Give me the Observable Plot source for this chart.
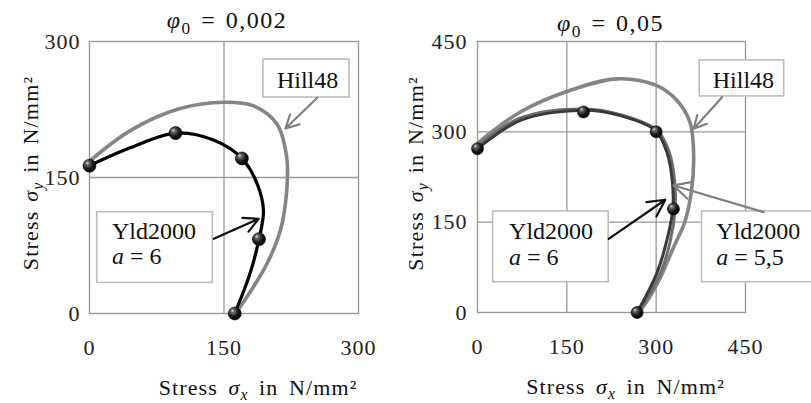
<!DOCTYPE html>
<html><head><meta charset="utf-8">
<script src="https://cdn.jsdelivr.net/npm/d3@7"></script>
<script src="https://cdn.jsdelivr.net/npm/@observablehq/plot@0.6"></script>
<style>
html,body{margin:0;padding:0;background:#fff;}
#wrap{display:flex;width:811px;height:403px;overflow:hidden;}
#wrap svg{display:block;flex:none;}
#wrap svg text, #wrap svg tspan{font-family:"Liberation Serif","Times New Roman",serif !important;}
</style></head><body><div id="wrap"></div>
<script>
// ---------- texts ----------
const titleLeft = "*φ*_{0} = 0,002";
const titleRight = "*φ*_{0} = 0,05";
const xLabel = "Stress *σ*_{x} in N/mm²";
const yLabel = "Stress *σ*_{y} in N/mm²";
const leftTicks = [0, 150, 300];
const rightTicks = [0, 150, 300, 450];
const leftGrid = [150];
const rightGrid = [150, 300];

// ---------- left panel, φ0 = 0,002 ----------
const leftHill48X = [0, 46, 101, 150, 183, 209, 220, 220, 213, 198, 180, 163];
const leftHill48Y = [168, 202, 226, 233, 229, 209, 172, 136, 92, 55, 25, 0];
const leftYldX = [0, 46, 96, 139, 170, 187, 194, 189, 179, 162];
const leftYldY = [163, 183, 199, 191, 171, 143, 114, 82, 44, 0];
const leftDotX = [0, 96, 170, 189, 162];
const leftDotY = [163, 199, 171, 82, 0];
const leftLabels = ["Hill48", "Yld2000", "*a* = 6"];
const leftLabelX = [209, 25, 25];
const leftLabelY = [257, 91, 63];
const leftBoxX1 = [194, 8.6], leftBoxX2 = [290, 137.5];
const leftBoxY1 = [280, 111.7], leftBoxY2 = [238.2, 33.8];
const leftArrowX1 = [254, 138.6], leftArrowY1 = [238, 82.4];
const leftArrowX2 = [218.5, 188.7], leftArrowY2 = [204, 104.4];
const leftArrowColor = ["#808080", "#111"];

// ---------- right panel, φ0 = 0,05 ----------
const rightHill48X = [0, 72, 156, 235, 300, 335, 357, 363, 359, 348, 330, 307, 282, 270];
const rightHill48Y = [281, 333, 369, 388, 377, 352, 315, 260, 200, 150, 110, 58, 15, 0];
const rightYld6X = [0, 72, 178, 240, 299, 318, 327, 328, 318, 301, 268];
const rightYld6Y = [272, 319, 336, 327, 302, 266, 219, 172, 120, 65, 0];
const rightYld55X = [0, 72, 178, 242, 302, 322, 331, 332, 324, 307, 270];
const rightYld55Y = [277, 323, 338, 328, 302, 266, 219, 175, 120, 65, 0];
const rightDotX = [0, 178, 300, 329, 268];
const rightDotY = [272, 333, 300, 172, 0];
const rightLabels = ["Hill48", "Yld2000", "*a* = 6", "Yld2000", "*a* = 5,5"];
const rightLabelX = [395, 53, 53, 401, 401];
const rightLabelY = [385, 134.5, 92, 134.5, 92];
const rightBoxX1 = [373, 26.3, 377], rightBoxX2 = [515, 220.3, 570];
const rightBoxY1 = [418.6, 167.8, 167.8], rightBoxY2 = [358.8, 50.3, 50.3];
const rightArrowX1 = [410.6, 220.3, 480.4], rightArrowY1 = [357.6, 122.4, 166.6];
const rightArrowX2 = [363, 315.4, 329.4], rightArrowY2 = [305, 187.2, 211];
const rightArrowColor = ["#808080", "#111", "#808080"];

const FONT = "'Liberation Serif', 'Times New Roman', serif";
const pts = (xs, ys) => xs.map((x, i) => ({x, y: ys[i]}));

function enrich(svg, titleText) {
  const s = d3.select(svg);
  s.selectAll("text").attr("font-family", FONT);
  s.selectAll('g[aria-label="x-axis tick label"] text, g[aria-label="y-axis tick label"] text').attr("letter-spacing", 1);
  s.selectAll("text").each(function () {
    const t = this.textContent;
    const sel = d3.select(this);
    if (t === xLabel) sel.attr("letter-spacing", 1.1).attr("word-spacing", 4);
    if (t === yLabel) sel.attr("letter-spacing", 1.2).attr("word-spacing", 2);
    if (t === titleText) sel.attr("letter-spacing", 1.5).attr("word-spacing", 2);
    if (!/\*|_\{/.test(t)) return;
    const base = parseFloat(getComputedStyle(this).fontSize) || 20;
    const parts = t.split(/(\*[^*]+\*|_\{[^}]+\})/).filter(s => s);
    sel.text(null);
    let shift = 0;
    for (const p of parts) {
      const ts = sel.append("tspan");
      if (p.startsWith("_{")) {
        const c = p.slice(2, -1);
        const d = base * 0.24;
        ts.attr("font-size", base * 0.72).attr("dy", d);
        if (/[a-z]/i.test(c)) ts.attr("font-style", "italic");
        ts.text(c);
        shift = d;
      } else {
        if (shift) { ts.attr("dy", -shift); shift = 0; }
        if (p.startsWith("*")) ts.attr("font-style", "italic").text(p.slice(1, -1));
        else ts.text(p);
      }
    }
  });
}

function addBall(svg, id) {
  const g = d3.select(svg).insert("defs", ":first-child").append("radialGradient")
    .attr("id", id).attr("cx", "40%").attr("cy", "38%").attr("r", "65%")
    .attr("fx", "32%").attr("fy", "28%");
  g.append("stop").attr("offset", "0%").attr("stop-color", "#e0e0e0");
  g.append("stop").attr("offset", "22%").attr("stop-color", "#666");
  g.append("stop").attr("offset", "65%").attr("stop-color", "#151515");
  g.append("stop").attr("offset", "100%").attr("stop-color", "#000");
}

function panel(o) {
  const boxes = o.boxX1.map((d, i) => ({x1: d, x2: o.boxX2[i], y1: o.boxY1[i], y2: o.boxY2[i]}));
  const arrows = o.arX1.map((d, i) => ({x1: d, y1: o.arY1[i], x2: o.arX2[i], y2: o.arY2[i], c: o.arColor[i]}));
  const labels = o.labels.map((t, i) => ({t, x: o.labX[i], y: o.labY[i]}));
  return Plot.plot({
    width: o.width, height: 403,
    marginLeft: o.ml, marginRight: o.mr, marginTop: 41, marginBottom: o.mb,
    x: {domain: [0, o.max]}, y: {domain: [0, o.max]},
    style: {fontFamily: FONT, fontSize: "21px", color: "#222", background: "#fff", overflow: "hidden"},
    marks: [
      Plot.gridX({ticks: o.grid, stroke: "#9a9a9a", strokeOpacity: 1, strokeWidth: 1.3}),
      Plot.gridY({ticks: o.grid, stroke: "#9a9a9a", strokeOpacity: 1, strokeWidth: 1.3}),
      Plot.frame({stroke: "#9a9a9a", strokeWidth: 1.4}),
      Plot.axisX({ticks: o.ticks, tickSize: 0, tickPadding: 26, fontSize: 22, label: null, fill: "#222"}),
      Plot.axisY({ticks: o.ticks, tickSize: 0, tickPadding: o.tpy, fontSize: 22, label: null, fill: "#222"}),
      ...o.curves.map(c => Plot.line(pts(c.x, c.y), {x: "x", y: "y", curve: "catmull-rom", stroke: c.stroke, strokeWidth: c.w})),
      Plot.dot(pts(o.dotX, o.dotY), {x: "x", y: "y", r: o.r, fill: `url(#${o.ball})`, stroke: "#000", strokeWidth: 0.6}),
      Plot.rect(boxes, {x1: "x1", x2: "x2", y1: "y1", y2: "y2", fill: "#fff", stroke: "#bdbdbd", strokeWidth: 1.6}),
      Plot.arrow(arrows, {x1: "x1", y1: "y1", x2: "x2", y2: "y2", stroke: "c", strokeWidth: 2.2, headLength: 13, headAngle: 55}),
      Plot.text(labels, {x: "x", y: "y", text: "t", textAnchor: "start", lineAnchor: "middle", fontSize: 24, fill: "#111"}),
      Plot.text([o.title], {frameAnchor: "top", textAnchor: "middle", lineAnchor: "middle", dx: o.tdx, dy: o.tdy, text: d => d, fontSize: 24, fill: "#111"}),
      Plot.text([xLabel], {frameAnchor: "bottom", textAnchor: "middle", lineAnchor: "middle", dx: o.xldx, dy: 74, text: d => d, fontSize: 22, fill: "#111"}),
      Plot.text([yLabel], {frameAnchor: "left", textAnchor: "middle", lineAnchor: "middle", rotate: -90, dx: o.yldx, dy: o.yldy, text: d => d, fontSize: 22, fill: "#111"})
    ]
  });
}

const wrap = document.getElementById("wrap");
const left = panel({
  width: 400, ml: 89, mr: 42, mb: 90, max: 300, ticks: leftTicks, grid: leftGrid, tpy: 9,
  curves: [
    {x: leftHill48X, y: leftHill48Y, stroke: "#858585", w: 3.6},
    {x: leftYldX, y: leftYldY, stroke: "#000", w: 3.2}
  ],
  dotX: leftDotX, dotY: leftDotY, r: 6.5, ball: "ballL",
  boxX1: leftBoxX1, boxX2: leftBoxX2, boxY1: leftBoxY1, boxY2: leftBoxY2,
  arX1: leftArrowX1, arY1: leftArrowY1, arX2: leftArrowX2, arY2: leftArrowY2, arColor: leftArrowColor,
  labels: leftLabels, labX: leftLabelX, labY: leftLabelY,
  title: titleLeft, tdx: 3, tdy: -21, xldx: 34, yldx: -59, yldy: -4.5
});
const right = panel({
  width: 411, ml: 77, mr: 66, mb: 91, max: 450, ticks: rightTicks, grid: rightGrid, tpy: 10,
  curves: [
    {x: rightHill48X, y: rightHill48Y, stroke: "#858585", w: 3.6},
    {x: rightYld55X, y: rightYld55Y, stroke: "#6e6e6e", w: 3},
    {x: rightYld6X, y: rightYld6Y, stroke: "#3a3a3a", w: 3}
  ],
  dotX: rightDotX, dotY: rightDotY, r: 6, ball: "ballR",
  boxX1: rightBoxX1, boxX2: rightBoxX2, boxY1: rightBoxY1, boxY2: rightBoxY2,
  arX1: rightArrowX1, arY1: rightArrowY1, arX2: rightArrowX2, arY2: rightArrowY2, arColor: rightArrowColor,
  labels: rightLabels, labX: rightLabelX, labY: rightLabelY,
  title: titleRight, tdx: -1, tdy: -18, xldx: 14, yldx: -62, yldy: -3.5
});
wrap.appendChild(left);
wrap.appendChild(right);
addBall(left, "ballL");
addBall(right, "ballR");
enrich(left, titleLeft);
enrich(right, titleRight);
</script></body></html>
